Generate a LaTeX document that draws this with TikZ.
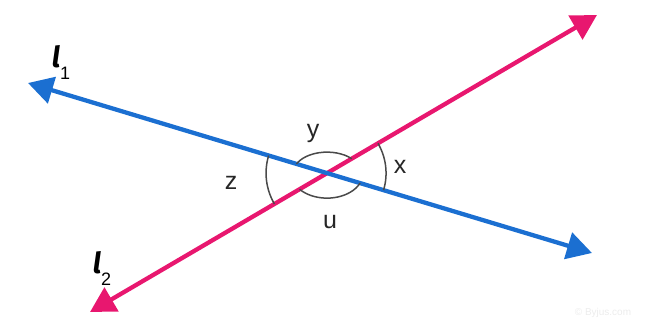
\documentclass[tikz,border=0pt]{standalone}
\usepackage{fontspec}
\setmainfont{Liberation Sans}
\newfontfamily\lnamefont{Fira Sans}
\usetikzlibrary{arrows.meta}
\definecolor{lblue}{HTML}{1B6FD1}
\definecolor{lpink}{HTML}{E8176F}
\definecolor{arcgr}{HTML}{4A4A4A}
\definecolor{wmark}{HTML}{ECECEC}
\tikzset{
  >={Triangle[length=25pt,width=27pt]},
  line/.style={<->,line width=4.3pt},
  ang/.style={draw=arcgr,line width=1.5pt},
  albl/.style={font=\fontsize{25}{25}\selectfont,text=black!85,inner sep=0pt},
  lname/.style={inner sep=0pt,text=black},
}
\begin{document}
\begin{tikzpicture}[x=1pt,y=1pt]
  \useasboundingbox (0,0) rectangle (646,328);
  % the two lines
  \coordinate (b1) at (28,245);
  \coordinate (b2) at (592,75);
  \coordinate (p1) at (90,16);
  \coordinate (p2) at (597,313);
  \coordinate (c) at (intersection of b1--b2 and p1--p2);
  \draw[line,draw=lpink] (p1) -- (p2);
  \draw[line,draw=lblue] (b1) -- (b2);
  % angle marks
  \draw[ang] (c) ++(163.3:61) arc[start angle=163.3,end angle=210.3,radius=61];
  \draw[ang] (c) ++(-16.7:59) arc[start angle=-16.7,end angle=30.3,radius=59];
  \draw[ang] (c) ++(43.4:34 and 21) arc[start angle=43.4,end angle=154.1,x radius=34,y radius=21];
  \draw[ang] (c) ++(220:36 and 25) arc[start angle=220,end angle=336.6,x radius=36,y radius=25];
  % angle names
  \node[albl] (ay) at (313,195) {y};
  \node[albl] (ax) at (400,161) {x};
  \node[albl] (az) at (231,145) {z};
  \node[albl] (au) at (330,106) {u};
  % line names
  \node[lname] (l1) at (61,265) {\lnamefont\fontsize{29}{29}\selectfont\bfseries\itshape l\raisebox{-12pt}{\rmfamily\mdseries\upshape\fontsize{18}{18}\selectfont 1}};
  \node[lname] (l2) at (102,59) {\lnamefont\fontsize{29}{29}\selectfont\bfseries\itshape l\raisebox{-12pt}{\rmfamily\mdseries\upshape\fontsize{18}{18}\selectfont 2}};
  \node[text=wmark,font=\fontsize{10}{10}\selectfont] (wm) at (603,15) {© Byjus.com};
\end{tikzpicture}
\end{document}
